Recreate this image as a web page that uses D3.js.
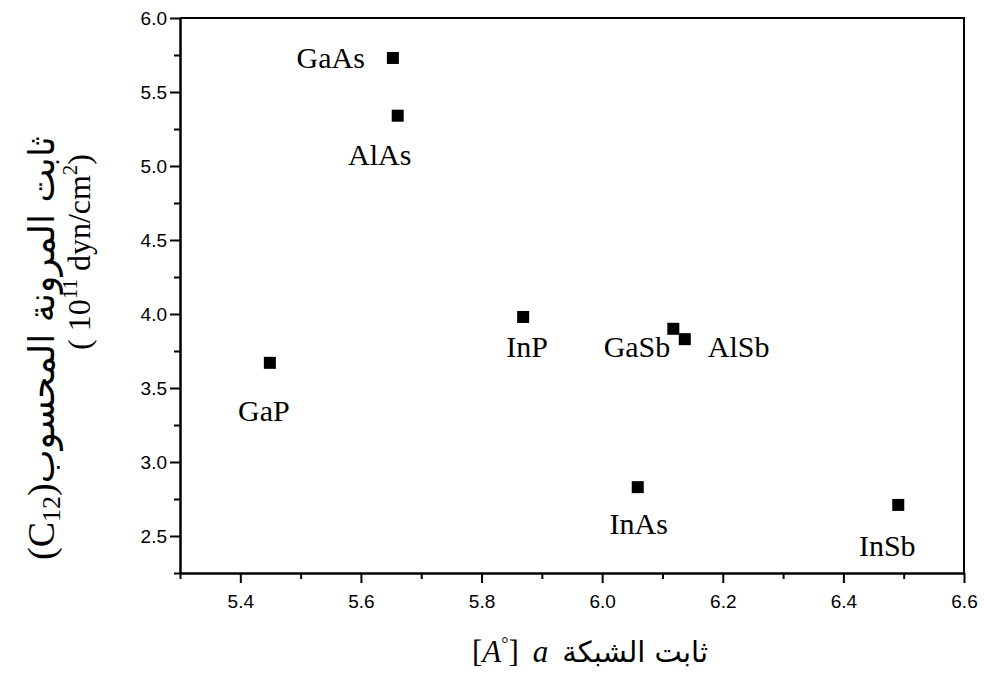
<!DOCTYPE html>
<html>
<head>
<meta charset="utf-8">
<script src="https://cdn.jsdelivr.net/npm/d3@7"></script>
<style>
  body { margin: 0; background: #fff; }
  svg { display: block; }
  .axis path, .axis line { stroke: #000; stroke-width: 2; }
  .axis text { font-family: 'Liberation Sans', Arial, sans-serif; font-size: 19px; fill: #000; }
  .label { font-family: 'Liberation Serif', 'Times New Roman', serif; font-size: 30px; fill: #000; }
  .serif { font-family: 'Liberation Serif', 'Times New Roman', serif; fill: #000; }
  .arabic { font-family: 'DejaVu Sans', sans-serif; fill: #000; }
</style>
</head>
<body>
<script>
'use strict'

// data
const materials = ['GaAs', 'AlAs', 'GaP', 'InP', 'GaSb', 'AlSb', 'InAs', 'InSb']
const latticeA = [5.653, 5.661, 5.449, 5.869, 6.118, 6.137, 6.059, 6.491]
const c12 = [5.73, 5.34, 3.67, 3.98, 3.90, 3.83, 2.83, 2.71]

const xTicks = [5.4, 5.6, 5.8, 6.0, 6.2, 6.4, 6.6]
const yTicks = [2.5, 3.0, 3.5, 4.0, 4.5, 5.0, 5.5, 6.0]
const xMinor = [5.3, 5.5, 5.7, 5.9, 6.1, 6.3, 6.5]
const yMinor = [2.25, 2.75, 3.25, 3.75, 4.25, 4.75, 5.25, 5.75]

// label placement relative to each marker (layout, not data)
const labelLayout = {
  GaAs: { dx: -28, dy: 10, anchor: 'end' },
  AlAs: { dx: -18, dy: 49, anchor: 'middle' },
  GaP: { dx: -6, dy: 58, anchor: 'middle' },
  InP: { dx: 4, dy: 40, anchor: 'middle' },
  GaSb: { dx: -3, dy: 28, anchor: 'end' },
  AlSb: { dx: 23, dy: 18, anchor: 'start' },
  InAs: { dx: 1, dy: 47, anchor: 'middle' },
  InSb: { dx: -11, dy: 51, anchor: 'middle' }
}

const width = 984
const height = 676
const margin = { top: 18, right: 20, bottom: 103, left: 180 }
const plotW = width - margin.left - margin.right
const plotH = height - margin.top - margin.bottom

const svg = d3.select('body').append('svg')
  .attr('width', width)
  .attr('height', height)

const plot = svg.append('g')
  .attr('transform', 'translate(' + margin.left + ',' + margin.top + ')')

const scaleX = d3.scaleLinear().domain([5.3, 6.6]).range([0, plotW])
const scaleY = d3.scaleLinear().domain([2.25, 6.0]).range([plotH, 0])

// minor ticks
plot.append('g')
  .attr('class', 'axis')
  .attr('transform', 'translate(0,' + plotH + ')')
  .call(d3.axisBottom(scaleX).tickValues(xMinor).tickSize(6).tickSizeOuter(0).tickFormat(''))
plot.append('g')
  .attr('class', 'axis')
  .call(d3.axisLeft(scaleY).tickValues(yMinor).tickSize(6).tickSizeOuter(0).tickFormat(''))

// major ticks
plot.append('g')
  .attr('class', 'axis x')
  .attr('transform', 'translate(0,' + plotH + ')')
  .call(d3.axisBottom(scaleX).tickValues(xTicks).tickSize(10).tickSizeOuter(0)
    .tickPadding(12).tickFormat(d3.format('.1f')))
plot.append('g')
  .attr('class', 'axis y')
  .call(d3.axisLeft(scaleY).tickValues(yTicks).tickSize(10).tickSizeOuter(0)
    .tickPadding(3).tickFormat(d3.format('.1f')))

// frame (top + right)
plot.append('path')
  .attr('d', 'M0,0H' + plotW + 'V' + plotH)
  .attr('fill', 'none')
  .attr('stroke', '#000')
  .attr('stroke-width', 2)

const points = materials.map(function (m, i) {
  return { name: m, a: latticeA[i], c: c12[i] }
})

const ms = 12
plot.append('g')
  .selectAll('rect')
  .data(points)
  .enter()
  .append('rect')
  .attr('x', function (d) { return scaleX(d.a) - ms / 2 })
  .attr('y', function (d) { return scaleY(d.c) - ms / 2 })
  .attr('width', ms)
  .attr('height', ms)
  .attr('fill', '#000')

plot.append('g')
  .selectAll('text')
  .data(points)
  .enter()
  .append('text')
  .attr('class', 'label')
  .attr('x', function (d) { return scaleX(d.a) + labelLayout[d.name].dx })
  .attr('y', function (d) { return scaleY(d.c) + labelLayout[d.name].dy })
  .attr('text-anchor', function (d) { return labelLayout[d.name].anchor })
  .text(function (d) { return d.name })

// x axis title
const xt = svg.append('text')
  .attr('class', 'serif')
  .attr('x', 472)
  .attr('y', 662)
  .style('font-size', '31px')
xt.append('tspan').text('[')
xt.append('tspan').style('font-style', 'italic').text('A')
xt.append('tspan').style('font-size', '18px').attr('dy', -12).text('°')
xt.append('tspan').attr('dy', 12).text(']')
xt.append('tspan').style('font-style', 'italic').attr('dx', 14).text('a')
svg.append('text')
  .attr('class', 'arabic')
  .attr('x', 708)
  .attr('y', 662)
  .attr('text-anchor', 'end')
  .style('font-size', '29px')
  .text('ثابت الشبكة')

// y axis title (rotated)
const yt = svg.append('g').attr('transform', 'rotate(-90)')
const yl1 = yt.append('text')
  .attr('class', 'serif')
  .attr('x', -560)
  .attr('y', 54)
  .style('font-size', '38px')
yl1.append('tspan').text('(C')
yl1.append('tspan').style('font-size', '26px').attr('dy', 6).text('12')
yl1.append('tspan').attr('dy', -6).text(')')
yl1.append('tspan')
  .attr('class', 'arabic')
  .style('font-size', '36px')
  .text('ثابت المرونة المحسوب')

const yl2 = yt.append('text')
  .attr('class', 'serif')
  .attr('x', -350)
  .attr('y', 90)
  .style('font-size', '32px')
yl2.append('tspan').text('( 10')
yl2.append('tspan').style('font-size', '21px').attr('dy', -13).text('11')
yl2.append('tspan').attr('dy', 13).text(' dyn/cm')
yl2.append('tspan').style('font-size', '21px').attr('dy', -13).text('2')
yl2.append('tspan').attr('dy', 13).text(')')
</script>
</body>
</html>
